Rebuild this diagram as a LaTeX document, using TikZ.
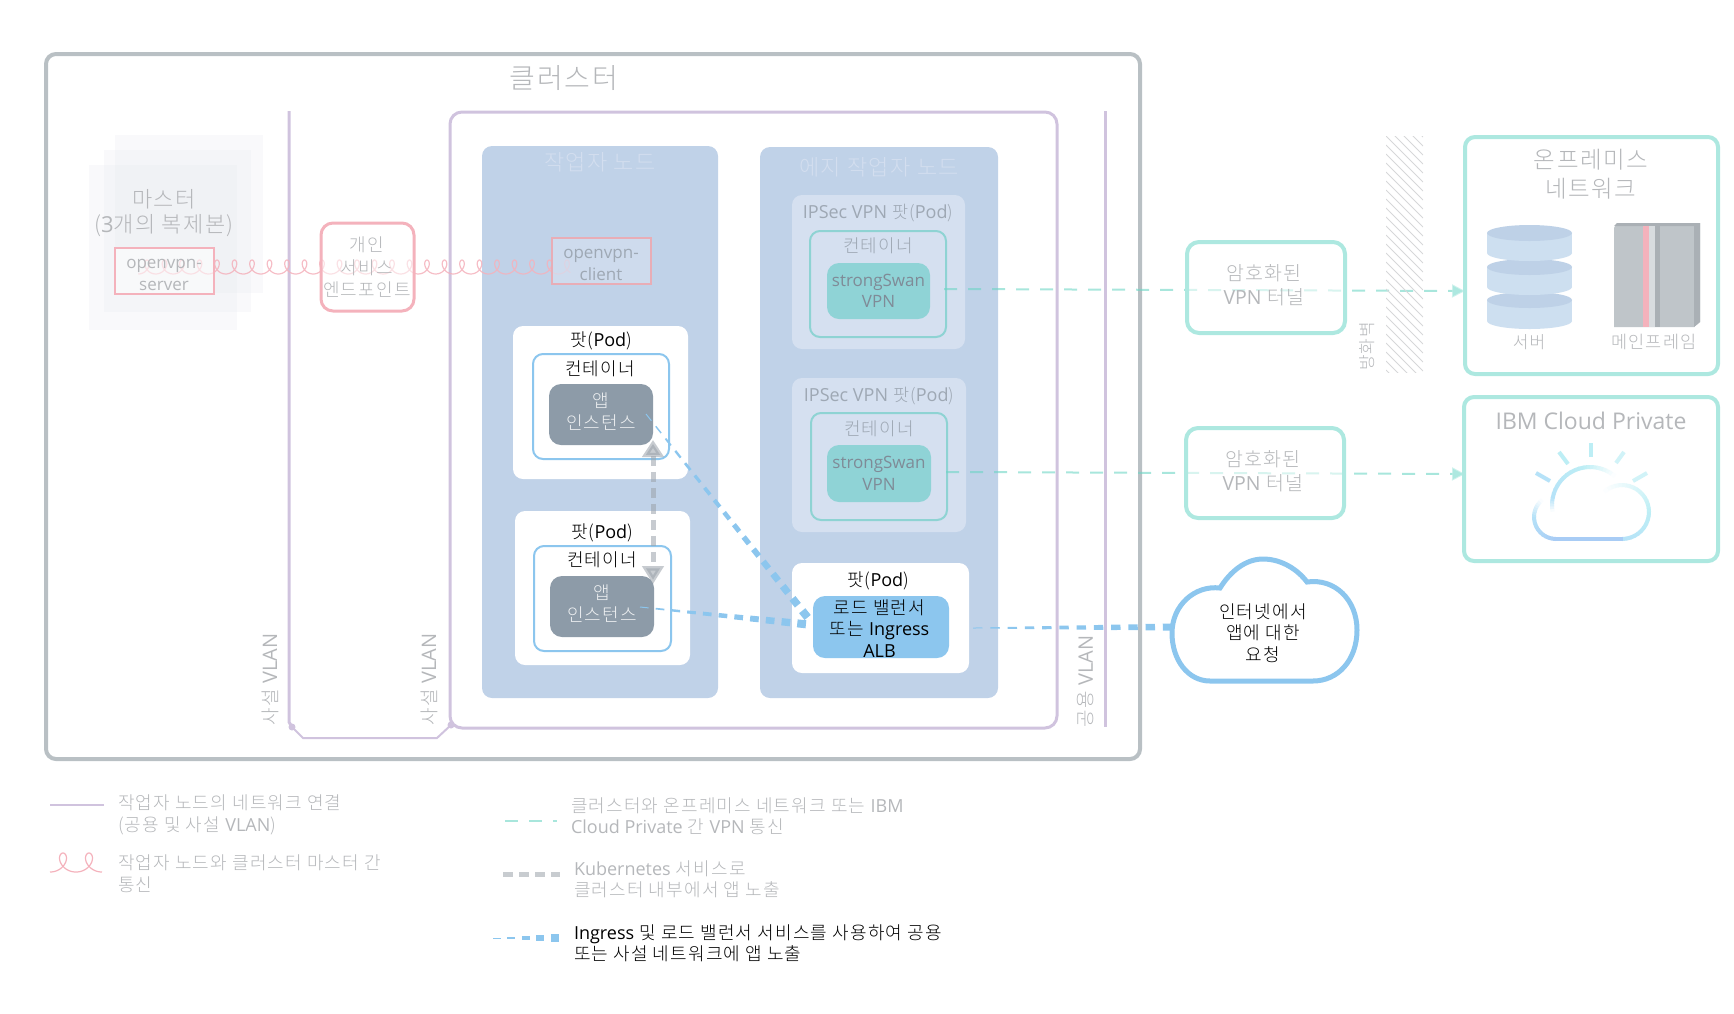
\documentclass[tikz,border=0pt]{standalone}
\usepackage{fontspec}
\setmainfont{Noto Sans CJK KR Light}[LetterSpace=6.5]
\newfontfamily\lat{Open Sans}
\usetikzlibrary{calc,arrows.meta}
\definecolor{cGray}{HTML}{B9C0C4}
\definecolor{cPurple}{HTML}{D0C3DE}
\definecolor{cPink}{HTML}{F4B2BC}
\definecolor{cBlue}{HTML}{C0D2E8}
\definecolor{cPale}{HTML}{D5E0F0}
\definecolor{cTeal}{HTML}{ADE8E0}
\definecolor{cTealD}{HTML}{8ED3D3}
\definecolor{cTealF}{HTML}{8FD3D6}
\definecolor{cSky}{HTML}{8CC6EE}
\definecolor{cApp}{HTML}{8D9BA8}
\definecolor{cTxt}{HTML}{B5B7BA}
\definecolor{cTxtB}{HTML}{9EA8B4}
\definecolor{cTitle}{HTML}{D3DEEF}
\definecolor{cDash}{HTML}{6ED5C5}
\definecolor{cGrayD}{HTML}{9AA2AA}
\definecolor{cBody}{HTML}{CDDFF0}
\definecolor{cTop}{HTML}{BED1E7}
\definecolor{cMain}{HTML}{BFC5C9}
\definecolor{cMainD}{HTML}{AAB0B5}
\definecolor{cCloudA}{HTML}{A8CCF5}
\definecolor{cCloudB}{HTML}{B6E2F8}
\definecolor{cCloudC}{HTML}{BDEEF5}
\definecolor{cMaster}{HTML}{E6E8EE}
\tikzset{
  every node/.style={inner sep=0pt,outer sep=0pt,align=center},
  cluster/.style={draw=cGray,line width=4pt,rounded corners=10pt},
  workernet/.style={draw=cPurple,line width=3pt,rounded corners=12pt},
  vlan/.style={draw=cPurple,line width=3pt},
  master/.style={fill=cMaster,fill opacity=.25},
  pinkbox/.style={draw=cPink,line width=1.6pt,fill=white,fill opacity=.55,text opacity=1,text=cTxt},
  pinkround/.style={pinkbox,line width=3pt,rounded corners=12pt},
  clientbox/.style={draw=cPink!90!gray,line width=1.6pt,fill=cPale,fill opacity=.7,text opacity=1,text=cTxtB},
  nodebg/.style={fill=cBlue,rounded corners=10pt},
  pale/.style={fill=cPale,rounded corners=10pt},
  pod/.style={fill=white,rounded corners=10pt},
  contS/.style={draw=cSky,line width=2pt,rounded corners=10pt},
  contT/.style={draw=cTealD,line width=2pt,rounded corners=10pt},
  app/.style={fill=cApp,rounded corners=12pt},
  swan/.style={fill=cTealF,rounded corners=12pt,text=cApp!90!black},
  alb/.style={fill=cSky,rounded corners=12pt},
  tunnel/.style={draw=cTeal,line width=4pt,rounded corners=12pt,fill=white,fill opacity=.55},
  onprem/.style={draw=cTeal,line width=4pt,rounded corners=10pt,fill=white},
  tealdash/.style={draw=cDash,draw opacity=.6,line width=2pt,dash pattern=on 13pt off 11pt},
  tealtip/.style={-{Triangle[length=13pt,width=13pt,color=cTeal]}},
  graydash/.style={draw=cGrayD,opacity=.55,line width=5pt,dash pattern=on 10pt off 6pt},
  coilpk/.style={draw=cPink,line width=1.2pt},
  apptext/.style={text=white!85!cApp,font=\fontsize{18}{22}\selectfont},
  f/.style={font=\fontsize{#1}{#1}\selectfont},
}
\newcommand\bx[7]{\node[#6,minimum width={(#4)-(#2)},minimum height={(#5)-(#3)}] (#1) at ({((#2)+(#4))/2},{((#3)+(#5))/2}) {#7};}
\newcommand\T[5]{\node[yshift=-1.2pt,#4] (#1) at (#2,#3) {#5};}
\newcommand\Taper[5]{%
 \foreach \i in {1,...,#5}{%
  \pgfmathsetmacro\tA{(\i-1)/#5}\pgfmathsetmacro\tB{(\i-.45)/#5}%
  \pgfmathsetmacro\wd{#3+(#4-#3)*(\i-1)/(#5-1)}%
  \draw[cSky,line width=\wd pt] ($(#1)!\tA!(#2)$) -- ($(#1)!\tB!(#2)$);}}
\newcommand\Grad[8]{% cx cy r a0 a1 c0 c1 n
 \foreach \i in {1,...,#8}{%
  \pgfmathsetmacro\aA{#4+(#5-#4)*(\i-1)/#8}\pgfmathsetmacro\aB{#4+(#5-#4)*(\i+.15)/#8}%
  \pgfmathtruncatemacro\pc{100*(\i-.5)/#8}%
  \draw[color=#7!\pc!#6,line width=4pt] ({#1+#3*cos(\aA)},{#2-#3*sin(\aA)}) -- ({#1+#3*cos(\aB)},{#2-#3*sin(\aB)});}}
\newcommand\Cyl[2]{%
 \fill[cBody] (1487,#1) rectangle (1572,#2);
 \fill[cBody] (1529.5,#2) ellipse [x radius=42.5,y radius=8];
 \fill[cTop] (1529.5,#1) ellipse [x radius=42.5,y radius=8];}
\begin{document}
\begin{tikzpicture}[x=1pt,y=-1pt]
\useasboundingbox (0,0) rectangle (1734,1013);
% masters
\bx{m3}{115}{135}{263}{293}{master}{}
\bx{m2}{104}{150}{251}{312}{master}{}
\bx{m1}{89}{165}{237}{330}{master}{}
\bx{clu}{46}{54}{1140}{759}{cluster}{}
\T{clut}{564}{77}{f=28,text=cTxt}{클러스터}
\T{mt}{164}{198}{f=22,text=cTxt}{마스터}
\T{mt2}{164}{224}{f=22,text=cTxt}{({\lat 3}개의 복제본)}
% VLAN lines
\coordinate (vt) at (289,111);
\coordinate (vb) at (292,727);
\coordinate (vd) at (451,725);
\draw[vlan] (vt) -- (289,722) -- (vb);
\draw[cPurple,line width=2pt] (vb) -- (303,738) -- (437,738) -- (vd);
\fill[cPurple] (vb) circle[radius=3.5];
\fill[cPurple] (vd) circle[radius=3.5];
\bx{wn}{450}{112}{1057}{728}{workernet}{}
\coordinate (pt) at (1105,111);
\coordinate (pb) at (1105,727);
\draw[vlan] (pt) -- (pb);
\T{v1}{270}{678}{f=19,rotate=90,text=cTxt}{사설 {\lat\fontsize{20}{20}\selectfont VLAN}}
\T{v2}{429}{678}{f=19,rotate=90,text=cTxt}{사설 {\lat\fontsize{20}{20}\selectfont VLAN}}
\T{v3}{1086}{680}{f=19,rotate=90,text=cTxt}{공용 {\lat\fontsize{20}{20}\selectfont VLAN}}
% worker nodes
\bx{wb}{482}{146}{718}{698}{nodebg}{}
\bx{eb}{760}{147}{998}{698}{nodebg}{}
\T{wt}{600}{161}{f=22,text=cTitle}{작업자 노드}
\T{et}{879}{166}{f=22,text=cTitle}{에지 작업자 노드}
% coil
\coordinate (coA) at (147,267);
\draw[coilpk,draw opacity=.85,shift={(coA)}] plot[smooth,samples=600,domain=-180:8784] ({\x/360*17.5-6*sin(\x)},{-7*cos(\x)});
\bx{srv}{115}{248}{214}{294}{pinkbox}{}
\T{srvt}{164}{273.5}{text=cTxt,font=\fontsize{17}{21.5}\lat}{openvpn-\\server}
\bx{ep}{321}{223}{414}{311}{pinkround}{}
\T{ept}{367}{266}{text=cTxt,font=\fontsize{18}{22.5}\selectfont}{개인\\서비스\\엔드포인트}
\bx{cli}{552}{238}{651}{284}{clientbox}{}
\T{clit}{601}{263.5}{text=cTxtB,font=\fontsize{17}{21.5}\lat}{openvpn-\\client}
% left pods
\bx{p1}{513}{326}{688}{479}{pod}{}
\T{p1t}{601}{340}{f=18}{팟({\lat Pod})}
\bx{c1}{533}{354}{669}{459}{contS}{}
\T{c1t}{600}{368}{f=18}{컨테이너}
\bx{a1}{549}{384}{653}{445}{app}{}
\T{a1t}{601}{410}{apptext}{앱\\인스턴스}
\bx{p2}{515}{511}{690}{665}{pod}{}
\T{p2t}{602}{532}{f=18}{팟({\lat Pod})}
\bx{c2}{534}{546}{671}{651}{contS}{}
\T{c2t}{602}{559}{f=18}{컨테이너}
\bx{a2}{550}{576}{654}{637}{app}{}
\T{a2t}{602}{602}{apptext}{앱\\인스턴스}
% IPSec pods
\bx{i1}{792}{195}{965}{349}{pale}{}
\T{i1t}{878}{211.5}{f=17.5,text=cTxtB}{{\lat\fontsize{18}{18}\selectfont IPSec VPN} 팟({\lat\fontsize{18}{18}\selectfont Pod})}
\bx{ic1}{810}{231}{946}{337}{contT}{}
\T{ic1t}{878}{245}{f=18,text=cTxtB}{컨테이너}
\bx{sw1}{827}{263}{930}{319}{swan,font=\fontsize{17}{21.5}\lat}{strongSwan\\VPN}
\bx{i2}{792}{378}{966}{532}{pale}{}
\T{i2t}{879}{394.5}{f=17.5,text=cTxtB}{{\lat\fontsize{18}{18}\selectfont IPSec VPN} 팟({\lat\fontsize{18}{18}\selectfont Pod})}
\bx{ic2}{811}{413}{947}{520}{contT}{}
\T{ic2t}{879}{428}{f=18,text=cTxtB}{컨테이너}
\bx{sw2}{827}{445}{931}{502}{swan,font=\fontsize{17}{21.5}\lat}{strongSwan\\VPN}
% LB pod
\bx{p3}{792}{563}{969}{673}{pod}{}
\T{p3t}{878}{580}{f=18}{팟({\lat Pod})}
\bx{lb}{813}{596}{949}{658}{alb}{}
\T{lbt}{879.5}{627}{font=\fontsize{18}{21.6}\selectfont}{로드 밸런서\\또는 {\lat Ingress}\\{\lat ALB}}
% on-prem boxes
\bx{on}{1465}{137}{1718}{374}{onprem}{}
\bx{ibm}{1464}{397}{1718}{561}{onprem}{}
% teal dashes
\coordinate (d1a) at (944,289);
\coordinate (d2a) at (946,472);
\coordinate (op1) at (1465,291);
\coordinate (ic2e) at (1465,474);
\draw[tealdash,tealtip] (d1a) -- (op1);
\draw[tealdash,tealtip] (d2a) -- (ic2e);
% firewall hatch
\begin{scope}
\clip (1386,136) rectangle (1423,372);
\foreach \k in {-36,-27,...,240}{\draw[cTxt!55,line width=.8pt] (1386,136+\k) -- (1423,173+\k);}
\end{scope}
\T{fw}{1367}{345}{f=17,rotate=90,text=cTxt}{방화벽}
% tunnels
\bx{tu1}{1187}{242}{1345}{333}{tunnel}{}
\T{tu1t}{1264}{284}{text=cTxt,font=\fontsize{19.5}{24}\selectfont}{암호화된\\{\lat VPN} 터널}
\bx{tu2}{1186}{428}{1344}{518}{tunnel}{}
\T{tu2t}{1263}{470}{text=cTxt,font=\fontsize{19.5}{24}\selectfont}{암호화된\\{\lat VPN} 터널}
% on-prem content
\T{ont}{1591}{172.5}{text=cTxt,font=\fontsize{23.5}{29}\selectfont}{온프레미스\\네트워크}
\Cyl{300}{321}
\Cyl{267}{287}
\Cyl{233}{253}
\T{svr}{1529}{341}{f=17,text=cTxt}{서버}
\fill[cMain] (1614,228) -- (1617,223) -- (1700,223) -- (1700,322) -- (1694,327) -- (1614,327) -- cycle;
\fill[cMainD] (1614,226) -- (1617,223) -- (1700,223) -- (1700,322) -- (1694,327) -- (1694,226) -- cycle;
\fill[cMain!60!white] (1649,226) rectangle (1655,327);
\fill[cPink] (1643,226) rectangle (1649,327);
\fill[cMainD] (1655,226) rectangle (1660,327);
\T{mf}{1654}{341}{f=17.5,text=cTxt}{메인프레임}
% IBM cloud
\T{ibmt}{1591}{420}{text=cTxt,font=\fontsize{23}{26}\lat}{IBM Cloud Private}
\draw[cCloudC,line width=4pt] (1591,443) -- (1591,457);
\draw[cCloudC,line width=4pt] (1559,452) -- (1568,464);
\draw[cCloudC!70!white,line width=4pt] (1624,452) -- (1616,463);
\draw[cCloudB,line width=4pt] (1536,473) -- (1550,481);
\draw[cCloudC!70!white,line width=4pt] (1647,473) -- (1633,481);
\Grad{1590}{505}{38}{190}{170}{white}{cCloudB}{5}
\Grad{1590}{505}{38}{170}{100}{cCloudB}{cCloudC}{10}
\Grad{1590}{505}{38}{100}{50}{cCloudC}{white}{10}
\Grad{1622}{512}{27}{-90}{0}{cCloudB}{cCloudC}{10}
\Grad{1622}{512}{27}{0}{130}{cCloudC}{white}{16}
\Grad{1556}{517}{22}{270}{180}{cCloudA}{cCloudB}{10}
\Grad{1556}{517}{22}{180}{130}{cCloudB}{white}{8}
\draw[cCloudA,line width=4pt] (1554,539) -- (1623,539);
% gray arrow
\coordinate (gA) at (653,440);
\coordinate (gB) at (653,584);
\draw[graydash,{Triangle[length=17pt,width=21pt,color=cGrayD]}-{Triangle[length=18pt,width=21pt,color=cGrayD]}] (gA) -- (gB);
% blue tapers
\coordinate (t1a) at (646,414);
\coordinate (t1b) at (812,623);
\coordinate (t2a) at (640,607);
\coordinate (t2b) at (813,625);
\coordinate (t3a) at (973,628);
\coordinate (inet) at (1180,627);
\Taper{t1a}{t1b}{1}{8}{17}
\Taper{t2a}{t2b}{1}{8}{11}
\Taper{t3a}{inet}{1}{7}{12}
% internet cloud
\draw[cSky,line width=5pt,fill=white] (1172,633) .. controls (1172,605) and (1195,585) .. (1220,588) .. controls (1230,572) and (1245,559) .. (1263,559) .. controls (1282,559) and (1298,570) .. (1307,582) .. controls (1335,578) and (1357,600) .. (1357,630) .. controls (1357,660) and (1338,681) .. (1313,681) -- (1210,681) .. controls (1188,681) and (1172,660) .. (1172,633) -- cycle;
\T{inett}{1263}{632}{font=\fontsize{18}{21.5}\selectfont}{인터넷에서\\앱에 대한\\요청}
% legend
\coordinate (l1a) at (50,805);
\coordinate (l1b) at (104,805);
\draw[cPurple,line width=2pt] (l1a) -- (l1b);
\T{l1t}{118}{813.5}{anchor=west,align=left,text=cTxt,font=\fontsize{18}{22}\selectfont}{작업자 노드의 네트워크 연결\\(공용 및 사설 {\lat VLAN})}
\coordinate (l2a) at (63,862.5);
\draw[coilpk,shift={(l2a)}] plot[smooth,samples=200,domain=-180:540] ({\x/360*26-9*sin(\x)},{-9.5*cos(\x)});
\T{l2t}{118}{873}{anchor=west,align=left,text=cTxt,font=\fontsize{18}{22}\selectfont}{작업자 노드와 클러스터 마스터 간\\통신}
\coordinate (l3a) at (505,821);
\coordinate (l3b) at (557,821);
\draw[tealdash] (l3a) -- (l3b);
\T{l3t}{571}{815}{anchor=west,align=left,text=cTxt,font=\fontsize{18}{21.5}\selectfont}{클러스터와 온프레미스 네트워크 또는 {\lat IBM}\\{\lat Cloud Private} 간 {\lat VPN} 통신}
\coordinate (l4a) at (503,874);
\coordinate (l4b) at (560,874);
\draw[graydash] (l4a) -- (l4b);
\T{l4t}{574}{878}{anchor=west,align=left,text=cTxt,font=\fontsize{18}{21.5}\selectfont}{{\lat Kubernetes} 서비스로\\클러스터 내부에서 앱 노출}
\coordinate (l5a) at (493,938);
\coordinate (l5b) at (565,938);
\Taper{l5a}{l5b}{1}{8}{5}
\T{l5t}{574}{942}{anchor=west,align=left,font=\fontsize{18}{21}\selectfont}{{\lat Ingress} 및 로드 밸런서 서비스를 사용하여 공용\\또는 사설 네트워크에 앱 노출}
\end{tikzpicture}
\end{document}
